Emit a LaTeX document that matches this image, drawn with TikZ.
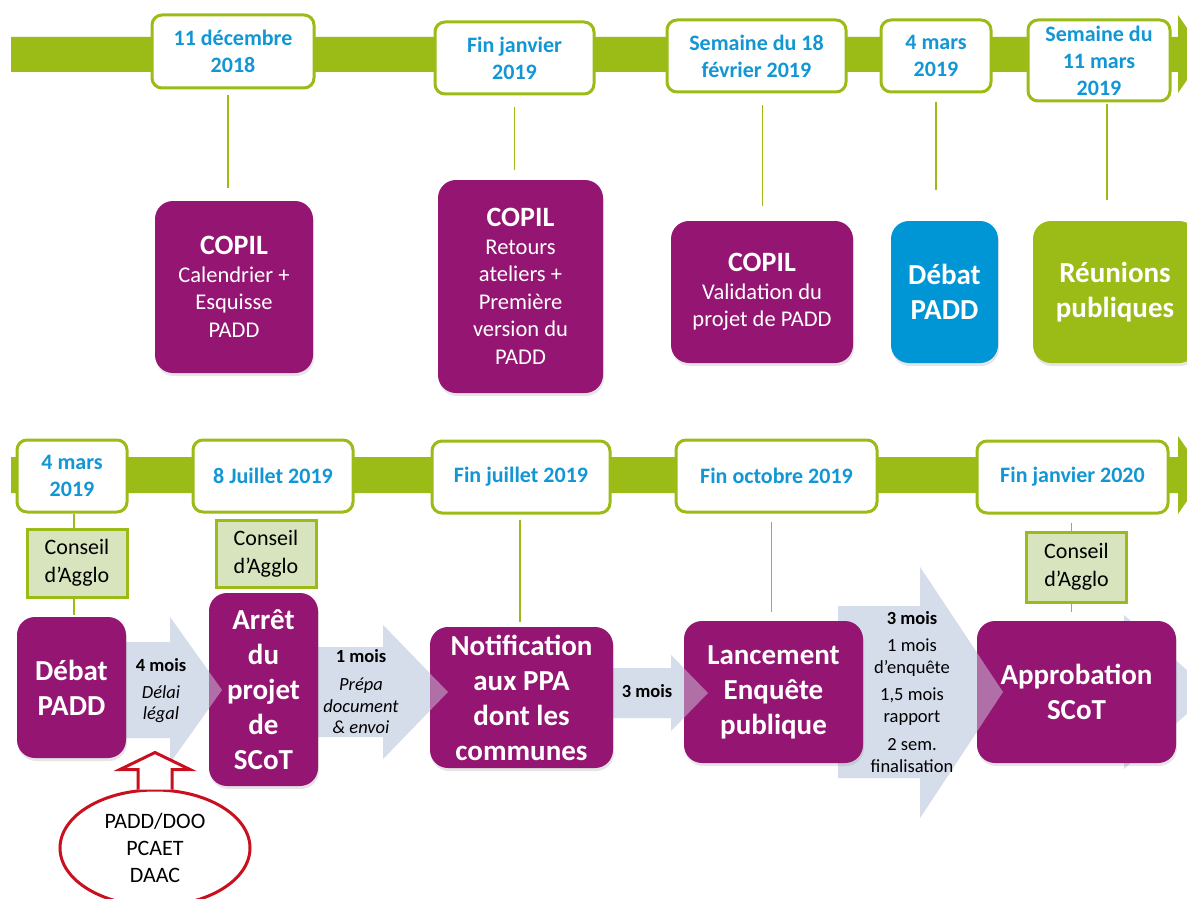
\documentclass[tikz,border=0pt]{standalone}
\usepackage{fontspec}
\setmainfont{Carlito}
\usetikzlibrary{positioning, shapes, shadows, calc}

\definecolor{vert}{RGB}{155,187,23}
\definecolor{prune}{RGB}{148,22,114}
\definecolor{bleu}{RGB}{0,150,214}
\definecolor{bleudate}{RGB}{18,150,212}
\definecolor{vertpale}{RGB}{215,228,189}
\definecolor{fleche}{RGB}{213,220,234}
\definecolor{rouge}{RGB}{200,16,30}

\begin{document}
\begin{tikzpicture}[x=1pt, y=-1pt,
    datebox/.style={draw=vert, line width=3pt, fill=white, rounded corners=10pt, text=bleudate,
        font=\bfseries\fontsize{22}{27}\selectfont, align=center, inner sep=0pt},
    etape/.style={fill=prune, rounded corners=18pt, text=white, align=center, inner sep=0pt,
        font=\bfseries\fontsize{29}{35}\selectfont,
        drop shadow={opacity=.2, shadow xshift=1pt, shadow yshift=-3pt}},
    copil/.style={etape, font=\fontsize{22.5}{27.5}\selectfont},
    conseil/.style={draw=vert, line width=3pt, fill=vertpale, font=\fontsize{22}{28}\selectfont,
        align=center, inner sep=0pt, minimum width=100pt},
    trait/.style={draw=vert, line width=1.5pt},
    bande/.style={fill=vert},
    chev/.style={fill=fleche},
    pointe/.style={fill=fleche, fill opacity=.45},
    duree/.style={font=\bfseries\fontsize{18.5}{22}\selectfont, align=center},
    detail/.style={font=\itshape\fontsize{18.5}{21.5}\selectfont, align=center},
    flecherouge/.style={draw=rouge, line width=3pt, fill=white, line join=miter}]

    \useasboundingbox (0,0) rectangle (1187,899);
    \fill[white] (0,0) rectangle (1187,899);
    \clip (0,0) rectangle (1187,899);

    % Frise du haut
    \fill[bande] (11,37) -- (1178,37) -- (1178,15) -- (1205,54) -- (1178,93) -- (1178,72) -- (11,72) -- cycle;
    \node[datebox, minimum width=162pt, minimum height=73pt] (d1) at (233,51.5) {11 décembre\\2018};
    \node[datebox, minimum width=159pt, minimum height=72pt] (d2) at (514.5,58) {Fin janvier\\2019};
    \node[datebox, minimum width=179pt, minimum height=72pt] (d3) at (756.5,56) {Semaine du 18\\février 2019};
    \node[datebox, minimum width=110pt, minimum height=72pt] (d4) at (936,56) {4 mars\\2019};
    \node[datebox, minimum width=142pt, minimum height=81pt] (d5) at (1099,60.5) {Semaine du\\11 mars\\2019};

    % Etapes du haut
    \node[copil, minimum width=158pt, minimum height=172pt] (c1) at (234,287)
        {{\bfseries\fontsize{28}{33}\selectfont COPIL}\\Calendrier +\\Esquisse\\PADD};
    \node[copil, minimum width=165pt, minimum height=213pt] (c2) at (520.5,286.5)
        {{\bfseries\fontsize{28}{33}\selectfont COPIL}\\Retours\\ateliers +\\Première\\version du\\PADD};
    \node[copil, minimum width=182pt, minimum height=142pt] (c3) at (762,292)
        {{\bfseries\fontsize{28}{33}\selectfont COPIL}\\Validation du\\projet de PADD};
    \node[etape, fill=bleu, minimum width=107pt, minimum height=142pt] (c4) at (944.5,292) {Débat\\PADD};
    \node[etape, fill=vert, minimum width=164pt, minimum height=142pt] (c5) at (1115,292) {Réunions\\publiques};

    \draw[trait, shorten <=6pt, shorten >=13pt] ([xshift=-5pt]d1.south) -- ([xshift=-5pt]d1.south |- c1.north);
    \draw[trait, shorten <=12pt, shorten >=10pt] (d2.south) -- (d2.south |- c2.north);
    \draw[trait, shorten <=12pt, shorten >=15pt] ([xshift=6pt]d3.south) -- ([xshift=6pt]d3.south |- c3.north);
    \draw[trait, shorten <=9pt, shorten >=31pt] (d4.south) -- (d4.south |- c4.north);
    \draw[trait, shorten <=2pt, shorten >=21pt] ([xshift=8pt]d5.south) -- ([xshift=8pt]d5.south |- c5.north);

    % Frise du bas
    \fill[bande] (11,457) -- (1178,457) -- (1178,436) -- (1205,475) -- (1178,514) -- (1178,493) -- (11,493) -- cycle;
    \node[datebox, minimum width=110pt, minimum height=72pt] (d6) at (72,476) {4 mars\\2019};
    \node[datebox, minimum width=160pt, minimum height=72pt] (d7) at (273,476) {8 Juillet 2019};
    \node[datebox, minimum width=178pt, minimum height=72pt] (d8) at (521,477) {Fin juillet 2019};
    \node[datebox, minimum width=201pt, minimum height=72pt] (d9) at (776.5,476) {Fin octobre 2019};
    \node[datebox, minimum width=191pt, minimum height=72pt] (d10) at (1072.5,477) {Fin janvier 2020};

    % Fleches de duree (sous les etapes)
    \fill[chev] (126,642) -- (170,642) -- (170,617) -- (222,690) -- (170,763) -- (170,738) -- (126,738) -- cycle;
    \fill[chev] (318,647) -- (383,647) -- (383,625) -- (448,692) -- (383,759) -- (383,737) -- (318,737) -- cycle;
    \fill[chev] (600,668) -- (671,668) -- (671,655) -- (708,693) -- (671,731) -- (671,718) -- (600,718) -- cycle;
    \fill[chev] (838,606) -- (920,606) -- (920,567) -- (1003,692) -- (920,818) -- (920,778) -- (838,778) -- cycle;
    \fill[chev] (1100,645) -- (1124,645) -- (1124,615) -- (1212,692) -- (1124,769) -- (1124,739) -- (1100,739) -- cycle;

    % Etapes du bas
    \node[etape, minimum width=109pt, minimum height=141pt] (b1) at (71.5,687.5) {Débat\\PADD};
    \node[etape, minimum width=109pt, minimum height=193pt] (b2) at (263.5,689.5) {Arrêt\\du\\projet\\de\\SCoT};
    \node[etape, minimum width=183pt, minimum height=141pt] (b3) at (521.5,697.5) {Notification\\aux PPA\\dont les\\communes};
    \node[etape, minimum width=179pt, minimum height=142pt] (b4) at (773.5,692) {Lancement\\Enquête\\publique};
    \node[etape, minimum width=199pt, minimum height=142pt] (b5) at (1076.5,692) {Approbation\\SCoT};

    \fill[pointe] (170,617) -- (222,690) -- (170,763) -- cycle;
    \fill[pointe] (383,625) -- (448,692) -- (383,759) -- cycle;
    \fill[pointe] (671,655) -- (708,693) -- (671,731) -- cycle;
    \fill[pointe] (920,567) -- (1003,692) -- (920,818) -- cycle;

    \node[duree] (m1) at (161,665) {4 mois};
    \node[detail] (l1) at (161,704) {Délai\\légal};
    \node[duree] (m2) at (361,656) {1 mois};
    \node[detail] (l2) at (361,706) {Prépa\\document\\\& envoi};
    \node[duree] (m3) at (647,691) {3 mois};
    \node[align=center, font=\fontsize{18.5}{21.5}\selectfont] (m4) at (912,692)
        {\textbf{3 mois}\\[6pt]1 mois\\d’enquête\\[6pt]1,5 mois\\rapport\\[7pt]2 sem.\\finalisation};

    % Conseils d'Agglo
    \node[conseil, minimum height=68pt] (k1) at (77,563) {Conseil\\d’Agglo};
    \node[conseil, minimum height=67pt] (k2) at (266,553.5) {Conseil\\d’Agglo};
    \node[conseil, minimum height=70pt] (k3) at (1076.5,567) {Conseil\\d’Agglo};

    \draw[trait] ([xshift=2pt]d6.south) -- ([xshift=2pt]d6.south |- k1.north);
    \draw[trait, shorten >=2pt] ([xshift=-3pt]k1.south) -- ([xshift=-3pt]k1.south |- b1.north);
    \draw[trait, shorten <=5pt, shorten >=5pt] ([xshift=-1pt]d8.south) -- ([xshift=-1pt]d8.south |- b3.north);
    \draw[trait, shorten <=8pt, shorten >=9pt] ([xshift=-5pt]d9.south) -- ([xshift=-5pt]d9.south |- b4.north);
    \draw[trait, shorten <=8pt] ([xshift=-1pt]d10.south) -- ([xshift=-1pt]d10.south |- k3.north);
    \draw[trait, shorten >=9pt] ([xshift=-5pt]k3.south) -- ([xshift=-5pt]k3.south |- b5.north);

    % Documents
    \node[ellipse, draw=rouge, line width=3pt, fill=white, minimum width=190pt, minimum height=116pt,
        inner sep=0pt, align=center, font=\fontsize{22}{27}\selectfont] (docs) at (155,848) {PADD/DOO\\PCAET\\DAAC};
    \draw[flecherouge] ($(docs.north)+(-17,1)$) -- ++(0,-20) -- ++(-18,0) -- ++(35,-17) -- ++(35,17) -- ++(-18,0) -- ++(0,20);
\end{tikzpicture}
\end{document}
